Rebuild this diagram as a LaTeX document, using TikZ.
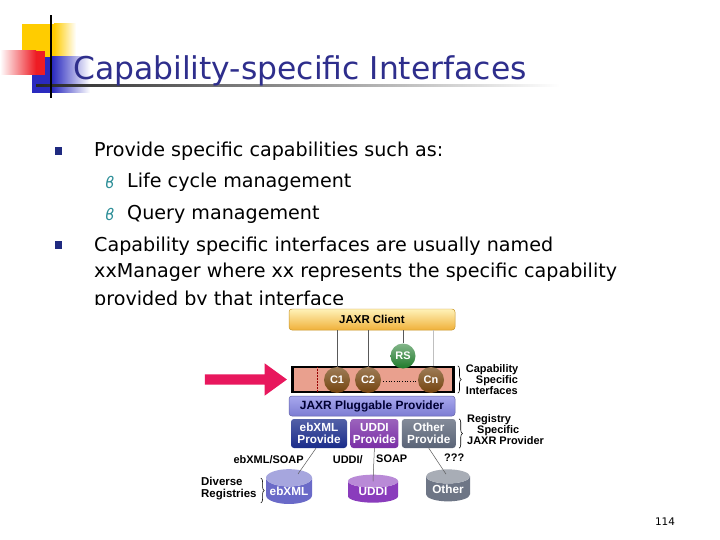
\documentclass[tikz,border=0pt]{standalone}
\usepackage{fontspec}
\setmainfont{DejaVu Sans}
\newfontfamily\diagfont{Liberation Sans}
\usetikzlibrary{positioning,calc,shapes.geometric,shapes.arrows,decorations.pathreplacing}

\definecolor{titleblue}{HTML}{2E2E8C}
\definecolor{bulletblue}{HTML}{1F2A80}
\definecolor{subteal}{HTML}{2E8F98}
\definecolor{decoyellow}{HTML}{FFCC00}
\definecolor{decored}{HTML}{EE1C24}
\definecolor{decoblue}{HTML}{2A2ABF}
\definecolor{clientlight}{HTML}{FFF2B8}
\definecolor{clientgold}{HTML}{F0B13A}
\definecolor{clientedge}{HTML}{C8962A}
\definecolor{capsalmon}{HTML}{E9A08E}
\definecolor{rsgreen}{HTML}{1E7A2A}
\definecolor{cbrown}{HTML}{74440F}
\definecolor{plugtop}{HTML}{A8A8EE}
\definecolor{plugbot}{HTML}{7C7CD2}
\definecolor{ebblue}{HTML}{1A2C8A}
\definecolor{uddipurple}{HTML}{7A2FA6}
\definecolor{otherslate}{HTML}{5A6477}
\definecolor{pointpink}{HTML}{E8175D}
\definecolor{regblue}{HTML}{6A6AC8}
\definecolor{regpurple}{HTML}{8A3CBC}
\definecolor{reggray}{HTML}{6E7686}

\newcommand\dgfont{\diagfont\bfseries\fontsize{11}{11}\selectfont}

\begin{document}
\begin{tikzpicture}[
  x=1bp, y=-1bp,
  bodytext/.style={anchor=base west, inner sep=0pt, font=\fontsize{19.2}{23}\selectfont},
  bulletsq/.style={fill=bulletblue, minimum width=6.5bp, minimum height=7.5bp, inner sep=0pt},
  subsym/.style={text=subteal, inner sep=0pt, font=\fontsize{16}{16}\selectfont\itshape},
  layer/.style={rounded corners=3bp, line width=0.5pt, minimum width=166bp,
                inner sep=0pt, font=\diagfont\bfseries\fontsize{11.5}{12}\selectfont},
  provbox/.style={rounded corners=3bp, inner sep=0pt, minimum height=29bp, align=center,
                  text=white, font=\diagfont\bfseries\fontsize{11.8}{12}\selectfont},
  iface/.style={circle, minimum size=26bp, inner sep=0pt, text=white, font=\dgfont},
  store/.style={cylinder, shape border rotate=90, aspect=0.45, inner sep=0pt,
                cylinder uses custom fill, text=white,
                font=\diagfont\bfseries\fontsize{11.8}{12}\selectfont},
  wire/.style={draw=gray!70!black, line width=0.5pt},
  lab/.style={font=\dgfont, inner sep=1bp},
  sidelab/.style={font=\dgfont, align=left, inner sep=0pt},
  brc/.style={decorate, decoration={brace, amplitude=3.5bp}, line width=0.6pt}
]
\useasboundingbox (0,0) rectangle (720,540);

% ---------------------------------------------------------------------------
% Title and its decoration
% ---------------------------------------------------------------------------
\fill[decoyellow] (22,24) rectangle (54,57);
\shade[left color=decoyellow, right color=white] (54,24) rectangle (76,57);
\fill[decoblue] (32,57) rectangle (52,93);
\shade[left color=decoblue, right color=white] (52,57) rectangle (90,93);
\shade[left color=white, right color=decored] (0,51) rectangle (36,75);
\fill[decored] (36,51) rectangle (45,75);
\shade[left color=black!85, right color=white] (36,85) rectangle (560,86.5);
\fill[black] (50,15) rectangle (52,98);

\node[anchor=base west, inner sep=0pt, text=titleblue, font=\fontsize{31.5}{36}\selectfont]
  (title) at (73,80) {Capability-specific Interfaces};

% ---------------------------------------------------------------------------
% Bullet text
% ---------------------------------------------------------------------------
\node[bulletsq] (bul1) at (58.5,151) {};
\node[bodytext] (line1) at (94,157) {Provide specific capabilities such as:};
\node[subsym] (sub1) at (110,182) {ϐ};
\node[bodytext] (line2) at (127,188) {Life cycle management};
\node[subsym] (sub2) at (110,214) {ϐ};
\node[bodytext] (line3) at (127,220) {Query management};
\node[bulletsq] (bul2) at (58.5,245) {};
\node[bodytext] (line4) at (94,252) {Capability specific interfaces are usually named};
\node[bodytext] (line5) at (94,278) {xxManager where xx represents the specific capability};
\node[bodytext] (line6) at (94,305) {provided by that interface};

% picture area lies over the last line
\fill[white] (90,304.5) rectangle (552,514);

% ---------------------------------------------------------------------------
% JAXR layers
% ---------------------------------------------------------------------------
\node[layer, top color=clientlight, bottom color=clientgold, draw=clientedge,
      minimum height=21bp] (client) at (372,319.5) {JAXR Client};

\node[draw=black, line width=2.5bp, fill=capsalmon, minimum width=161bp,
      minimum height=25bp, inner sep=0pt] (capbox) at (373,379.5) {};

\node[layer, top color=plugtop, bottom color=plugbot, draw=plugbot!80!black,
      minimum height=20bp, text=black!80!blue,
      font=\diagfont\bfseries\fontsize{12}{12}\selectfont] (plug) at (372,406) {JAXR Pluggable Provider};

\node[provbox, top color=ebblue!75!white, bottom color=ebblue, minimum width=56bp]
  (ebprov) at (319,433.5) {ebXML\\Provide};
\node[provbox, top color=uddipurple!75!white, bottom color=uddipurple, minimum width=48bp,
      right=3bp of ebprov] (uddiprov) {UDDI\\Provide};
\node[provbox, top color=otherslate!75!white, bottom color=otherslate, minimum width=54bp,
      right=3bp of uddiprov] (otherprov) {Other\\Provide};

% interfaces
\node[iface, top color=cbrown!70!white, bottom color=cbrown] (c1) at (337,380) {C1};
\node[iface, top color=cbrown!70!white, bottom color=cbrown] (c2) at (368,380) {C2};
\node[iface, top color=cbrown!70!white, bottom color=cbrown] (cn) at (431,380) {Cn};
\node[iface, minimum size=25bp, top color=rsgreen!55!white, bottom color=rsgreen]
  (rs) at (403,356) {RS};

\draw[densely dotted, draw=red!60!black, line width=0.5pt]
  ($(capbox.north west)+(26,1.5)$) -- ($(capbox.south west)+(26,-1.5)$);
\draw[dotted, line width=0.7pt] ($(c2.east)+(2,1)$) -- ($(cn.west)+(-2,1)$);

% client links
\coordinate (tapx) at (433,0);
\draw[wire] (client.south -| c1) -- (c1.north);
\draw[wire] (client.south -| c2) -- (c2.north);
\draw[wire] (client.south -| rs) -- (rs.north);
\draw[wire, draw=gray!50] (client.south -| tapx) -- (capbox.north -| tapx);

% pointer
\node[single arrow, fill=pointpink, minimum height=82bp, single arrow head extend=11bp,
      single arrow tip angle=72, inner sep=5bp, anchor=tip]
  (pointer) at ($(capbox.west)+(-4,0)$) {};

% braces and side labels
\draw[brc] ($(capbox.north east)+(3,0)$) -- ($(capbox.south east)+(3,0)$);
\node[sidelab, anchor=west] (caplab) at ($(capbox.east)+(11,0)$)
  {Capability\\\hspace{10bp}Specific\\Interfaces};
\draw[brc] ($(otherprov.north east)+(3,0)$) -- ($(otherprov.south east)+(3,0)$);
\node[sidelab, anchor=west] (reglab) at ($(otherprov.east)+(11,-3.5)$)
  {Registry\\\hspace{10bp}Specific\\JAXR Provider};

% ---------------------------------------------------------------------------
% Registries
% ---------------------------------------------------------------------------
\node[store, cylinder body fill=regblue, cylinder end fill=regblue!60!white,
      minimum width=46bp, minimum height=32bp] (ebreg) at (289,491) {ebXML};
\node[store, cylinder body fill=regpurple, cylinder end fill=regpurple!60!white,
      minimum width=50bp, minimum height=28bp] (uddireg) at (373,492) {UDDI};
\node[store, cylinder body fill=reggray, cylinder end fill=reggray!60!white,
      minimum width=44bp, minimum height=32bp] (otherreg) at (448,489) {Other};

\draw[wire] ($(ebprov.south)+(-3,0)$) -- node[lab, left=3bp, pos=0.45] {ebXML/SOAP}
  ($(ebreg.north)+(9,5)$);
\draw[wire] (uddiprov.south) -- node[lab, pos=0.33, left=10bp] {UDDI/}
  node[lab, pos=0.33, right=1bp] {SOAP} ($(uddireg.north)+(0,7)$);
\draw[wire] (otherprov.south) -- node[lab, pos=0.36, right=8bp] {???}
  ($(otherreg.north)+(-2,5)$);

\draw[brc] ($(ebreg.west)+(-5,-13)$) -- ($(ebreg.west)+(-5,12)$);
\node[sidelab, anchor=east, font=\diagfont\bfseries\fontsize{11.5}{12}\selectfont]
  (divlab) at ($(ebreg.west)+(-9,-2)$) {Diverse\\Registries};

\node[inner sep=0pt, font=\fontsize{10.5}{12}\selectfont] (pageno) at (665,522) {114};

\end{tikzpicture}
\end{document}
